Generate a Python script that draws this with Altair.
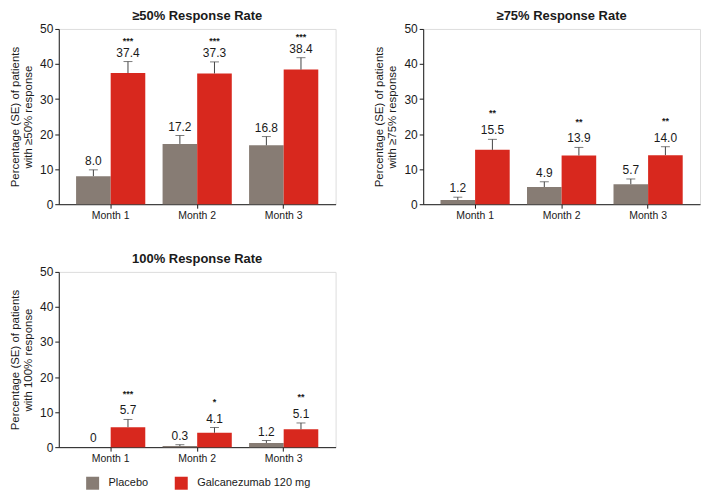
import altair as alt
import pandas as pd

months = ["Month 1", "Month 2", "Month 3"]
groups = ["Placebo", "Galcanezumab 120 mg"]
colors = ["#877c74", "#d8281e"]

p50_placebo = [8.0, 17.2, 16.8]
p50_galc = [37.4, 37.3, 38.4]
se50_placebo = [1.8, 2.4, 2.5]
se50_galc = [3.3, 3.3, 3.4]
stars50 = ["***", "***", "***"]

p75_placebo = [1.2, 4.9, 5.7]
p75_galc = [15.5, 13.9, 14.0]
se75_placebo = [0.8, 1.5, 1.5]
se75_galc = [3.0, 2.3, 2.4]
stars75 = ["**", "**", "**"]

p100_placebo = [0.0, 0.3, 1.2]
p100_galc = [5.7, 4.1, 5.1]
se100_placebo = [0.0, 0.4, 0.7]
se100_galc = [2.2, 1.5, 1.8]
stars100 = ["***", "*", "**"]

y_ticks = [0, 10, 20, 30, 40, 50]

FONT = "Liberation Sans"
TXT = "#1a1a1a"
W, H = 278, 176


def make_df(plc, glc, se_p, se_g, stars):
    rows = []
    for i, m in enumerate(months):
        rows.append({"month": m, "group": groups[0], "value": plc[i], "se": se_p[i], "stars": ""})
        rows.append({"month": m, "group": groups[1], "value": glc[i], "se": se_g[i], "stars": stars[i]})
    return pd.DataFrame(rows)


def panel(title, ytitle, plc, glc, se_p, se_g, stars, star_dy):
    df = make_df(plc, glc, se_p, se_g, stars)
    base = alt.Chart(df).transform_calculate(top="datum.value + datum.se")
    x = alt.X("month:N", sort=months,
              scale=alt.Scale(paddingInner=0.2, paddingOuter=0.2),
              axis=alt.Axis(title=None, labelAngle=0, labelFontSize=10.5, tickSize=4,
                            labelPadding=2, domainColor=TXT, tickColor=TXT, labelColor=TXT,
                            labelFont=FONT))
    xo = alt.XOffset("group:N", sort=groups, scale=alt.Scale(paddingInner=0, paddingOuter=0))
    yscale = alt.Scale(domain=[0, 50])
    yaxis = alt.Axis(title=ytitle, values=y_ticks, grid=False,
                     labelOverlap=False, tickSize=4, labelFontSize=12, labelPadding=2,
                     titleFontSize=11.5, titleFontWeight="normal", titlePadding=6,
                     domainColor=TXT, tickColor=TXT, labelColor=TXT, titleColor=TXT,
                     labelFont=FONT, titleFont=FONT)
    bars = base.mark_bar().encode(
        x=x, xOffset=xo,
        y=alt.Y("value:Q", scale=yscale, axis=yaxis),
        color=alt.Color("group:N", sort=groups,
                        scale=alt.Scale(domain=groups, range=colors),
                        legend=alt.Legend(orient="none", legendX=27, legendY=449,
                                          direction="horizontal", title=None,
                                          symbolType="square", symbolSize=170,
                                          symbolStrokeWidth=0, labelFontSize=11,
                                          labelFont=FONT, labelColor=TXT,
                                          columnPadding=26, labelOffset=9)),
    )
    err = base.transform_filter("datum.se > 0")
    rules = err.mark_rule(color="#444444", strokeWidth=1).encode(
        x=x, xOffset=xo, y=alt.Y("value:Q", scale=yscale, axis=yaxis), y2="top:Q")
    caps = err.mark_tick(color="#444444", size=9, thickness=1).encode(
        x=x, xOffset=xo, y=alt.Y("top:Q", scale=yscale, axis=yaxis))
    labels = base.transform_calculate(
        lbl="datum.value == 0 ? '0' : format(datum.value, '.1f')"
    ).mark_text(dy=-9, fontSize=12, baseline="middle", color=TXT, font=FONT).encode(
        x=x, xOffset=xo, y=alt.Y("top:Q", scale=yscale, axis=yaxis), text="lbl:N")
    st = base.transform_filter("datum.stars != ''").mark_text(
        dy=star_dy, fontSize=9, fontWeight="bold", baseline="middle", color=TXT, font=FONT
    ).encode(x=x, xOffset=xo, y=alt.Y("top:Q", scale=yscale, axis=yaxis), text="stars:N")
    return alt.layer(bars, rules, caps, labels, st).properties(
        width=W, height=H,
        title=alt.Title(title, fontSize=13, fontWeight="bold", font=FONT, color=TXT,
                        anchor="middle", offset=0),
    )


p1 = panel("≥50% Response Rate", ["Percentage (SE) of patients", "with ≥50% response"],
           p50_placebo, p50_galc, se50_placebo, se50_galc, stars50, -21)
p2 = panel("≥75% Response Rate", ["Percentage (SE) of patients", "with ≥75% response"],
           p75_placebo, p75_galc, se75_placebo, se75_galc, stars75, -26)
p3 = panel("100% Response Rate", ["Percentage (SE) of patients", "with 100% response"],
           p100_placebo, p100_galc, se100_placebo, se100_galc, stars100, -26)

chart = alt.vconcat(alt.hconcat(p1, p2, spacing=36), p3, spacing=31).properties(
    padding=0
).configure_view(stroke=None).configure(font=FONT)

chart.save("out.html", embed_options={"renderer": "svg", "actions": False})
